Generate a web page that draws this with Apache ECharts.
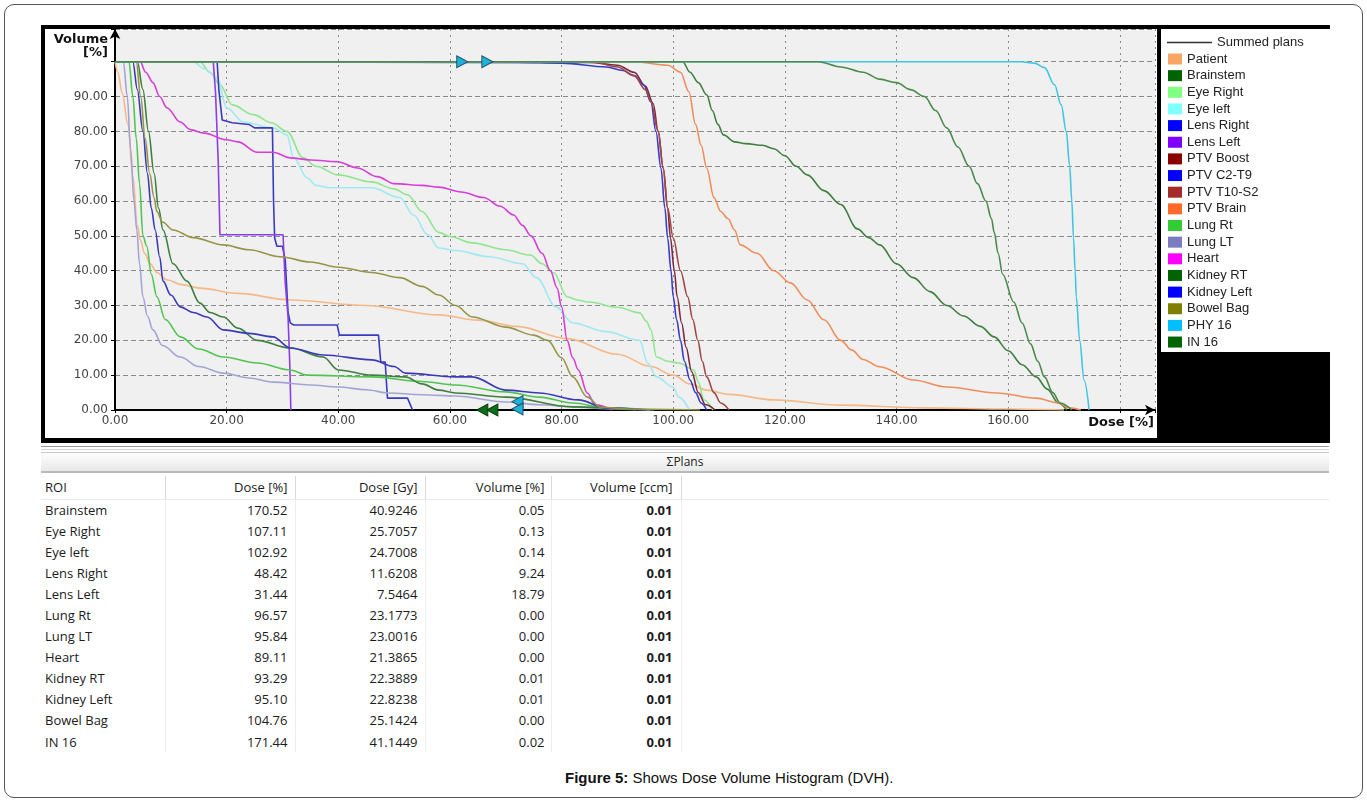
<!DOCTYPE html>
<html>
<head>
<meta charset="utf-8">
<script src="https://cdn.jsdelivr.net/npm/echarts/dist/echarts.min.js"></script>
<style>
  body { margin: 0; background: #fff; }
  #page { position: relative; width: 1367px; height: 801px; overflow: hidden; }
  #frame { position: absolute; left: 4px; top: 4px; width: 1357px; height: 792px; border: 1px solid #555; border-radius: 10px; }
  #panel { position: absolute; left: 41px; top: 25px; width: 1289px; height: 418px; background: #000; }
  #plotBg { position: absolute; left: 4px; top: 4px; width: 1112px; height: 409px; background: #fff; }
  #legendBg { position: absolute; left: 1120px; top: 4px; width: 169px; height: 323px; background: #fff; }
  #chart { position: absolute; left: 0; top: 0; width: 1289px; height: 418px; }
  #sep { position: absolute; left: 41px; top: 446px; width: 1288px; height: 2px; border-top: 1px solid #9c9c9c; border-bottom: 1px solid #d4d4d4; }
  #plansBar { position: absolute; left: 41px; top: 452px; width: 1288px; height: 18px; line-height: 18px;
    background: linear-gradient(#fdfdfd, #e8e8e8); border-top: 1px solid #c8c8c8; border-bottom: 2px solid #b9b9b9;
    text-align: center; font-family: 'Open Sans', sans-serif; font-size: 12px; color: #222; }
  #roiTable { position: absolute; left: 41px; top: 476px; width: 1288px; border-collapse: collapse; table-layout: fixed;
    font-family: 'Open Sans', sans-serif; font-size: 13px; color: #1b1b1b; }
  #roiTable td { padding: 0 7px 0 4px; white-space: nowrap; overflow: hidden; border-left: 1px solid #eeeeee; }
  #roiTable td:first-child { border-left: none; }
  #roiTable tr { height: 21.1px; }
  #roiTable tr.hd { height: 23px; }
  #roiTable tr.hd td { border-left-color: #d9d9d9; border-bottom: 1px solid #e9e9e9; }
  #roiTable td.r { text-align: right; }
  #roiTable td.b { font-weight: bold; padding-right: 8px; }
  #caption { position: absolute; left: 565px; top: 769px; font-family: 'Liberation Sans', Arial, sans-serif; font-size: 15px; color: #111; white-space: nowrap; }
</style>
</head>
<body>
<div id="page">
  <div id="frame"></div>
  <div id="panel">
    <div id="plotBg"></div>
    <div id="legendBg"></div>
    <div id="chart"></div>
  </div>
  <div id="sep"></div>
  <div id="plansBar">&Sigma;Plans</div>
  <table id="roiTable"></table>
  <div id="caption"><b>Figure 5:</b> Shows Dose Volume Histogram (DVH).</div>
</div>
<script>
// DVH curves, [dose %, volume %]
var dvhPatient = [[0,100],[0.5,97],[1.3,91],[2.3,82],[3.2,67],[4,53],[4.5,49],[5.3,45],[6.3,42],[7.5,39.5],[9.3,37.4],[12,36],[15.2,35],[22,33.5],[31.4,31.6],[45,30],[58,27.3],[65,25.8],[72,24],[81,20.5],[90,16],[96,12.5],[100,10],[103,7.5],[106,5.7],[110,4.5],[118,2.9],[130,1.4],[145,0.6],[160,0.3],[170,0]];
var dvhBrainstem = [[0,100],[101.7,100],[103,97],[104.5,94],[106,90.5],[107,86],[108,82],[109,79],[111,77],[113,76.5],[116,76],[118,75],[120,73],[122,70],[124,67.5],[127,63],[130,59],[133,52],[135,49.5],[137,47.4],[140,42],[143,38],[146,34],[149,30],[152,27],[155,24],[157.5,21],[160,17],[162.5,13],[165,9.5],[167,6],[169,2],[170.5,0]];
var dvhEyeRight = [[0,100],[15.2,100],[17,97],[18.8,93.4],[21,87.6],[24.8,84.8],[28,82.5],[30.8,80],[33.7,72.4],[36,70],[40,67.5],[46,65.5],[50,63.5],[52.4,61.8],[55,57],[58,51],[60,49.8],[64,48],[70,46],[74.4,44.5],[76.5,42],[78.6,39.4],[81,32.5],[83,31.5],[85,31],[90,29.5],[94,27.9],[95.2,25.5],[96,23],[97,15.2],[99,14],[101,13.5],[103.7,11.5],[104.5,8],[105.5,2.9],[107.1,0]];
var dvhEyeLeft = [[0,100],[14,100],[16,98],[18.3,95.4],[20,86.8],[23,82.7],[28.3,81],[30.8,79],[32,72.4],[34.4,66.7],[36,64.5],[38.5,63.8],[46,63.8],[51,61],[53.5,56],[56,50.3],[58,46.5],[61,45.8],[67,44],[73,42],[75.5,38],[79,29.6],[82,25],[88,22.5],[94,20],[95.4,13.5],[97,9.5],[100,6.6],[101,3.7],[102.9,0]];
var dvhLensRight = [[0,100],[18.3,100],[18.6,92],[19.2,83.3],[21,82.5],[24,82],[25,81],[28.2,81],[28.4,60],[28.6,49.4],[29,47],[30,47],[30.5,43],[31,28],[31.4,25],[32,24.4],[39.8,24.4],[40.2,21.5],[47.2,21.5],[47.6,13.8],[48.4,13.8],[48.8,3.4],[52.4,3.4],[53.3,0]];
var dvhLensLeft = [[0,100],[17.6,100],[18,91.4],[18.5,71],[18.8,50.3],[30.1,50.3],[30.5,36.5],[31,26.7],[31.3,13.5],[31.5,0]];
var dvhPtvBoost = [[0,100],[85,99.8],[90,99],[93,97],[95,93],[96.4,88],[97.3,80],[98.2,69.5],[99,58],[99.5,49.4],[100.2,40],[100.7,32.5],[101.5,25],[102.3,18],[103.3,11],[104.5,5],[105.8,1.5],[107.5,0]];
var dvhPtvC2T9 = [[0,100],[72,99.8],[80,99.6],[88,98.5],[91,97.5],[93,96],[94.7,93.4],[96,88.5],[96.9,80],[97.8,69.5],[98.5,58],[99,49.4],[99.6,40],[100,32.5],[100.6,26],[101.3,20],[102,14],[103,8.6],[104,5],[105,2],[106,0]];
var dvhPtvT10S2 = [[0,100],[85.5,100],[90,98.5],[93,96],[95,92],[96,88.5],[97.3,80],[98.2,69.5],[99,58],[100,49.4],[101.3,40],[102.6,32.5],[103.5,26],[104.4,20],[105.2,14],[106,9.5],[107.3,5],[108.5,2],[110,0]];
var dvhPtvBrain = [[0,100],[93,100],[99,99],[101.3,97],[102.8,91.4],[104,82],[105,76],[106,69.5],[107.3,61],[108.5,57],[109.8,55],[111,51.7],[112,47.4],[115,45],[118,40],[121,36.5],[124,31.6],[127,25.9],[130,20],[132,17.2],[134,14.5],[137,12.4],[143,8.6],[149,6.6],[158,4.9],[165,3.4],[169,2],[171,0.6],[173,0]];
var dvhLungRt = [[0,100],[2.5,100],[3.2,90],[3.8,78],[4.4,65],[5,50],[5.7,47],[6.5,39],[7.5,32.5],[9,26],[11.7,21],[15,17.5],[19.4,15.2],[25.5,13.5],[31.4,11.5],[34.4,10],[46,9.5],[55,8.2],[61,7.2],[70,5.2],[76,3.7],[82,2],[88,0.6],[96.5,0]];
var dvhLungLt = [[0,100],[1.5,100],[2.2,90],[2.8,75],[3.4,60],[3.9,51.7],[4.4,42],[5,32.5],[5.8,27],[6.8,23],[8.5,18.5],[11.7,15.2],[15,12.5],[19.4,10.6],[24,9.2],[28.3,8],[35,7.2],[40,6.6],[45,5.8],[49,4.9],[55,4.4],[61,4],[70,2.3],[76,1.5],[82,0.9],[88,0.4],[95.8,0]];
var dvhHeart = [[0,100],[4.5,100],[5.5,97],[6.8,94],[8,90],[9.3,86.8],[11.7,82.7],[13.5,80.5],[16,79.5],[20,77.6],[22,77],[25.5,74],[28.3,74],[31.4,72.4],[35,71.8],[39.8,71.3],[43.4,69.5],[47,67],[50,65],[55,64.5],[58,64],[62,62.6],[66,61],[69,58.5],[71.4,56],[73,53],[74.5,50],[76.5,45],[78,40],[79.2,35],[80,29.6],[81,20],[82,15],[83,11.5],[84.6,4.9],[86,1.5],[89.1,0]];
var dvhKidneyRt = [[0,100],[4,100],[5,92],[6,80],[7,68],[7.8,58],[8.6,51.7],[10.4,42],[12.9,37],[15.2,30.7],[17,28],[19.4,26.7],[22,23.5],[25.5,20],[31.4,17.8],[37.3,15.2],[40,11.5],[46,10],[52,9.5],[55,7.5],[58,5.7],[61,4.9],[70,3.7],[82,0.9],[93.3,0]];
var dvhKidneyLeft = [[0,100],[3.2,100],[4,92],[5,80],[5.8,68],[6.5,58],[7.2,51.7],[8,44],[8.6,37],[10,33],[11.7,29.6],[14,28],[16.5,26.7],[19.4,23],[24,22],[28.3,21],[31.4,17.8],[37.3,15.8],[46,14.4],[50,12.5],[52,10.6],[61,9.5],[64,9.5],[70,5.7],[76,4.9],[83,2.9],[88,0.6],[95.1,0]];
var dvhBowelBag = [[0,100],[3.8,100],[4.6,90],[5.4,78],[6.2,68],[7,61],[7.5,57],[8.5,54],[10.4,51.7],[14,49.5],[19.4,47.4],[24,46],[29.6,44],[35,42.5],[40,41],[46,39.5],[51,38],[55,35.5],[58,33],[61,30],[64,26.7],[70,23.8],[75,21.5],[77.5,20],[80,15],[82,9.5],[84.6,3.7],[87,0.8],[92,0.3],[104.8,0]];
var dvhPhy16 = [[0,100],[162.3,100],[164.7,99.6],[166.5,98.3],[168.3,93.4],[169.5,87.6],[170.4,80],[171,70.4],[171.4,60],[171.7,49.4],[172,40],[172.2,32.5],[172.8,20],[173.6,8.6],[174.5,0]];
var dvhIn16 = [[0,100],[126,100],[130,98.5],[134,97],[137,95],[140,94],[142.5,92],[145,90],[147,86],[149,81],[151,75.5],[153,70],[154.5,65],[156,60],[157,55],[157.5,51],[158.2,45],[159,39],[161,31],[162.5,25],[164,19],[165.3,14],[166.5,9.5],[168,5],[169.3,2],[171.4,0]];

var roiNames = ['Patient', 'Brainstem', 'Eye Right', 'Eye left', 'Lens Right', 'Lens Left', 'PTV Boost', 'PTV C2-T9', 'PTV T10-S2', 'PTV Brain', 'Lung Rt', 'Lung LT', 'Heart', 'Kidney RT', 'Kidney Left', 'Bowel Bag', 'PHY 16', 'IN 16'];
var roiCurves = [dvhPatient, dvhBrainstem, dvhEyeRight, dvhEyeLeft, dvhLensRight, dvhLensLeft, dvhPtvBoost, dvhPtvC2T9, dvhPtvT10S2, dvhPtvBrain, dvhLungRt, dvhLungLt, dvhHeart, dvhKidneyRt, dvhKidneyLeft, dvhBowelBag, dvhPhy16, dvhIn16];
var stepCurves = ['Lens Right', 'Lens Left'];

// dose markers drawn on the plot
var markTop = [[62.2,100],[66.7,100]];
var markGreen = [[65.8,0],[67.6,0]];
var markCyan = [[72.1,2.4],[72.1,0.3]];

var xTicks = [0, 20, 40, 60, 80, 100, 120, 140, 160];
var yTicks = [0, 10, 20, 30, 40, 50, 60, 70, 80, 90];

// table under the chart
var tableRoi = ['Brainstem', 'Eye Right', 'Eye left', 'Lens Right', 'Lens Left', 'Lung Rt', 'Lung LT', 'Heart', 'Kidney RT', 'Kidney Left', 'Bowel Bag', 'IN 16'];
var tableDosePct = ['170.52', '107.11', '102.92', '48.42', '31.44', '96.57', '95.84', '89.11', '93.29', '95.10', '104.76', '171.44'];
var tableDoseGy = ['40.9246', '25.7057', '24.7008', '11.6208', '7.5464', '23.1773', '23.0016', '21.3865', '22.3889', '22.8238', '25.1424', '41.1449'];
var tableVolPct = ['0.05', '0.13', '0.14', '9.24', '18.79', '0.00', '0.00', '0.00', '0.01', '0.01', '0.00', '0.02'];
var tableVolCcm = ['0.01', '0.01', '0.01', '0.01', '0.01', '0.01', '0.01', '0.01', '0.01', '0.01', '0.01', '0.01'];

var swatchColors = ['#f8a666', '#006400', '#80ff80', '#80ffff', '#0000ff', '#8000ff', '#8b0000', '#0000ff', '#a52a2a', '#ff6a2a', '#32cd32', '#7b7bc0', '#ff00ff', '#006400', '#0000ff', '#808000', '#00bfff', '#006400'];
var lineColors = ['#f5b887', '#3f7f3f', '#8fe68f', '#9fe9f2', '#3a3ac0', '#8a3ee6', '#7a2a3a', '#3a3acc', '#a04848', '#ef8e5a', '#50c450', '#a4a4d4', '#d63ed6', '#3f7f3f', '#3a3ab8', '#959548', '#3fc6e2', '#4a8a4a'];

var tickFont = 'DejaVu Sans, Verdana, sans-serif';
var legendFont = 'Liberation Sans, Arial, sans-serif';

// table
var rows = '<tr class="hd"><td>ROI</td><td class="r">Dose [%]</td><td class="r">Dose [Gy]</td><td class="r" style="padding-right:6px">Volume [%]</td><td class="r" style="padding-right:8px">Volume [ccm]</td><td></td></tr>';
for (var i = 0; i < tableRoi.length; i++) {
  rows += '<tr><td>' + tableRoi[i] + '</td><td class="r">' + tableDosePct[i] + '</td><td class="r">' + tableDoseGy[i] +
    '</td><td class="r" style="padding-right:6px">' + tableVolPct[i] + '</td><td class="r b">' + tableVolCcm[i] + '</td><td></td></tr>';
}
var colgroup = '<colgroup><col style="width:124px"><col style="width:130px"><col style="width:130px"><col style="width:126px"><col style="width:130px"><col></colgroup>';
document.getElementById('roiTable').innerHTML = colgroup + rows;

var series = [{
  name: 'Summed plans',
  type: 'line',
  data: [],
  color: '#333'
}];
roiCurves.forEach(function (curve, i) {
  var isStep = stepCurves.indexOf(roiNames[i]) >= 0;
  series.push({
    name: roiNames[i],
    type: 'line',
    data: curve,
    color: lineColors[i],
    showSymbol: false,
    symbol: 'none',
    smooth: isStep ? false : 0.35,
    smoothMonotone: 'x',
    lineStyle: { width: 1.6, color: lineColors[i] },
    z: 3
  });
});

function markerSeries(data, rotate, fill, stroke) {
  return {
    type: 'scatter',
    data: data,
    symbol: 'triangle',
    symbolSize: [12, 11],
    symbolRotate: rotate,
    clip: false,
    silent: true,
    itemStyle: { color: fill, borderColor: stroke, borderWidth: 1, opacity: 1 },
    z: 10
  };
}
series.push(markerSeries(markTop, -90, '#1db4dc', '#23506a'));
series.push(markerSeries(markGreen, 90, '#0b6e1b', '#0a3a0a'));
series.push(markerSeries(markCyan, 90, '#1db4dc', '#23506a'));

var myChart = echarts.init(document.getElementById('chart'));
myChart.setOption({
  animation: false,
  backgroundColor: 'transparent',
  grid: {
    left: 74,
    top: 4,
    width: 1040,
    height: 381,
    show: true,
    backgroundColor: '#f0f0f0',
    borderWidth: 0,
    containLabel: false,
    outerBoundsMode: 'none'
  },
  legend: [{
    data: [{ name: 'Summed plans', icon: 'rect', itemStyle: { color: '#333', borderWidth: 0 } }],
    orient: 'vertical',
    left: 1126,
    top: 11,
    padding: 0,
    itemWidth: 45,
    itemHeight: 1.5,
    selectedMode: false,
    textStyle: { fontFamily: legendFont, fontSize: 13, color: '#222', lineHeight: 2 }
  }, {
    data: roiNames.map(function (n, i) {
      return { name: n, icon: 'rect', itemStyle: { color: swatchColors[i], borderWidth: 0 } };
    }),
    orient: 'vertical',
    left: 1127,
    top: 27.5,
    padding: 0,
    itemWidth: 14,
    itemHeight: 11,
    itemGap: 3.65,
    selectedMode: false,
    itemStyle: { borderWidth: 0 },
    textStyle: { fontFamily: legendFont, fontSize: 13, color: '#222', lineHeight: 11 }
  }],
  xAxis: {
    type: 'value',
    min: 0,
    max: 186.3,
    interval: 20,
    axisLine: { show: true, onZero: false, symbol: ['none', 'arrow'], symbolSize: [8, 10], lineStyle: { color: '#000', width: 2 } },
    axisTick: { show: true, length: 3, lineStyle: { color: '#000' } },
    axisLabel: {
      margin: 5,
      color: '#444',
      fontFamily: tickFont,
      fontSize: 12,
      formatter: function (v) { return xTicks.indexOf(v) >= 0 ? v.toFixed(2) : ''; }
    },
    splitLine: { show: true, lineStyle: { color: '#8a8a8a', width: 1, type: [2, 4] } }
  },
  yAxis: {
    type: 'value',
    min: 0,
    max: 109.4,
    interval: 10,
    axisLine: { show: true, onZero: false, symbol: ['none', 'arrow'], symbolSize: [8, 10], lineStyle: { color: '#000', width: 2 } },
    axisTick: { show: true, length: 4, lineStyle: { color: '#000' } },
    axisLabel: {
      margin: 7,
      color: '#444',
      fontFamily: tickFont,
      fontSize: 12,
      formatter: function (v) { return yTicks.indexOf(v) >= 0 ? v.toFixed(2) : ''; }
    },
    splitLine: { show: true, lineStyle: { color: '#8a8a8a', width: 1, type: [5, 3] } }
  },
  graphic: [{
    type: 'text', right: 1289 - 67, top: 8,
    style: { text: 'Volume', font: 'bold 13px DejaVu Sans', fill: '#111', textAlign: 'right' }
  }, {
    type: 'text', right: 1289 - 67, top: 21,
    style: { text: '[%]', font: 'bold 13px DejaVu Sans', fill: '#111', textAlign: 'right' }
  }, {
    type: 'text', right: 1289 - 1113, top: 391,
    style: { text: 'Dose [%]', font: 'bold 13px DejaVu Sans', fill: '#111', textAlign: 'right' }
  }],
  series: series
});
</script>
</body>
</html>
